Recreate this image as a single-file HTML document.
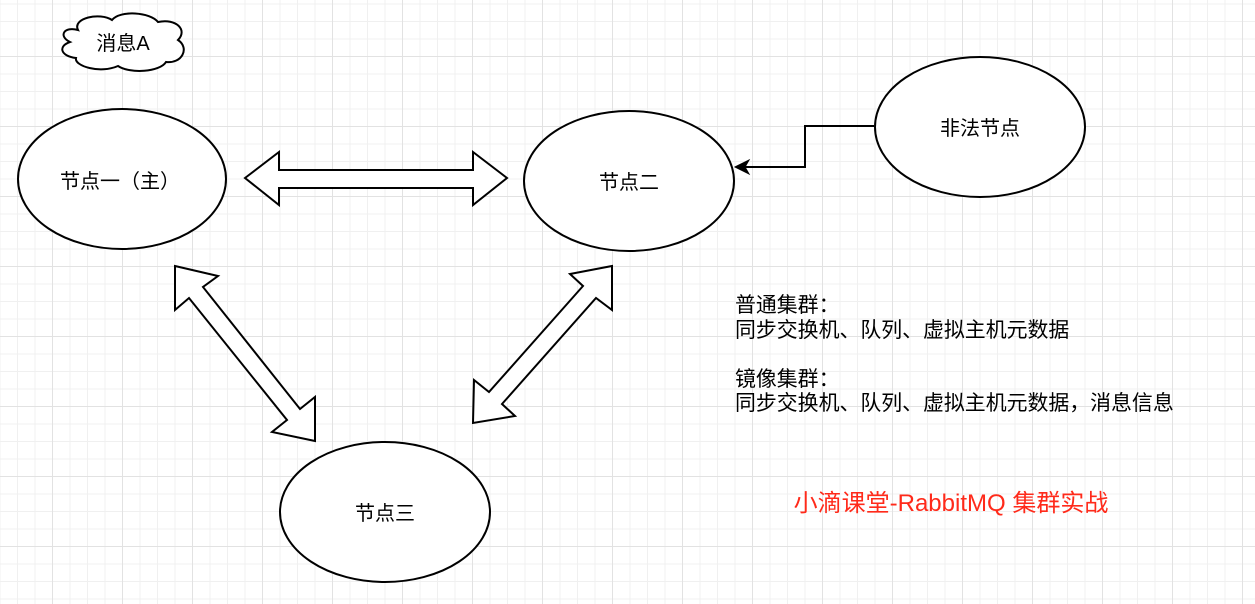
<!DOCTYPE html>
<html><head><meta charset="utf-8"><style>
html,body{margin:0;padding:0;}
body{width:1255px;height:604px;overflow:hidden;position:relative;background:#fff;
background-image:
linear-gradient(#e2e2e2 1px,transparent 1px),
linear-gradient(90deg,#e2e2e2 1px,transparent 1px),
linear-gradient(#f0f0f0 1px,transparent 1px),
linear-gradient(90deg,#f0f0f0 1px,transparent 1px);
background-size:70px 70px,70px 70px,17.5px 17.5px,17.5px 17.5px;
background-position:0 56px,52px 0,0 3.5px,17px 0;
font-family:"Liberation Sans","Noto Sans CJK SC",sans-serif;}
svg{position:absolute;left:0;top:0}
.t{position:absolute;font-size:20.9px;color:#000;line-height:24.5px;white-space:nowrap}
</style></head><body>
<svg width="1255" height="604" font-family="Liberation Sans, Noto Sans CJK SC, sans-serif">
<path d="M78,30 C72,18 100,12 112,20 C120,10 150,12 158,22 C176,18 188,30 178,40 C190,48 182,64 166,62 C160,72 130,74 118,66 C100,74 74,66 76,58 C60,56 58,46 70,42 C58,36 64,26 78,30 Z" fill="#fff" stroke="#000" stroke-width="2"/>
<text x="123" y="50" text-anchor="middle" font-size="20">消息A</text>
<g fill="#fff" stroke="#000" stroke-width="2">
<ellipse cx="122" cy="179" rx="104" ry="70"/>
<ellipse cx="629" cy="181" rx="105" ry="70"/>
<ellipse cx="385" cy="512" rx="105" ry="70"/>
<ellipse cx="980" cy="127" rx="105" ry="70"/>
<polygon points="245,178 279,152 279,170 473,170 473,152 507,178 473,205 473,188 279,188 279,205"/>
<polygon points="175,266 218,276 203,287 300,409 315,397 315,441 272,432 287,420 189,298 175,310"/>
<polygon points="612,266 612,310 596,298 502,404 515,416 473,423 474,380 489,392 583,286 570,274"/>
</g>
<polyline points="874,126 805,126 805,167 745,167" fill="none" stroke="#000" stroke-width="2"/>
<polygon points="735,167 749,160 745,167 749,174" fill="#000" stroke="#000"/>
<g font-size="20" text-anchor="middle">
<text x="120" y="188">节点一（主）</text>
<text x="629" y="189">节点二</text>
<text x="385" y="520">节点三</text>
<text x="980" y="135">非法节点</text>
</g>
<text x="951" y="511" text-anchor="middle" font-size="24" fill="#ff2a1a">小滴课堂-RabbitMQ 集群实战</text>
</svg>
<div class="t" style="left:735px;top:294px">普通集群：<br>同步交换机、队列、虚拟主机元数据<br><br>镜像集群：<br>同步交换机、队列、虚拟主机元数据，消息信息</div>
</body></html>
